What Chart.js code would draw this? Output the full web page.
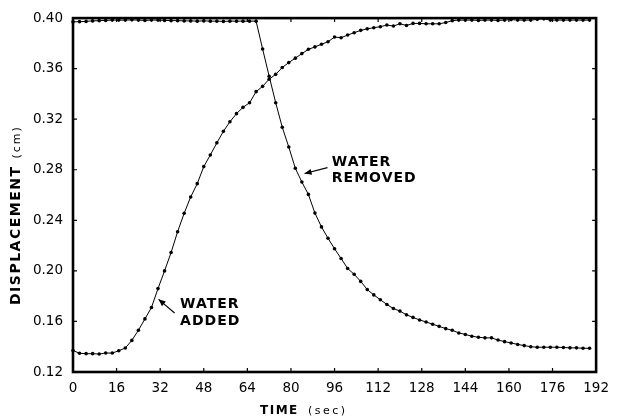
<!DOCTYPE html>
<html>
<head>
<meta charset="utf-8">
<script src="https://cdn.jsdelivr.net/npm/chart.js@4.4.1/dist/chart.umd.min.js"></script>
<style>
  html, body { margin: 0; padding: 0; background: #fff; }
  canvas { display: block; }
</style>
</head>
<body>
<canvas id="c" width="617" height="416"></canvas>
<script>
// ---- data ----
const timeSec = [0, 2.4, 4.8, 7.2, 9.6, 12, 14.4, 16.8, 19.2, 21.6, 24, 26.4, 28.8, 31.2, 33.6, 36, 38.4, 40.8, 43.2, 45.6,
  48, 50.4, 52.8, 55.2, 57.6, 60, 62.4, 64.8, 67.2, 69.6, 72, 74.4, 76.8, 79.2, 81.6, 84, 86.4, 88.8, 91.2, 93.6,
  96, 98.4, 100.8, 103.2, 105.6, 108, 110.4, 112.8, 115.2, 117.6, 120, 122.4, 124.8, 127.2, 129.6, 132, 134.4, 136.8, 139.2, 141.6,
  144, 146.4, 148.8, 151.2, 153.6, 156, 158.4, 160.8, 163.2, 165.6, 168, 170.4, 172.8, 175.2, 177.6, 180, 182.4, 184.8, 187.2, 189.6];

const waterAdded = [0.1370, 0.1348, 0.1345, 0.1345, 0.1342, 0.1350, 0.1350, 0.1368, 0.1390, 0.1450,
  0.1530, 0.1620, 0.1710, 0.1860, 0.2000, 0.2145, 0.2310, 0.2456, 0.2585, 0.2690,
  0.2825, 0.2917, 0.3013, 0.3104, 0.3180, 0.3244, 0.3294, 0.3330, 0.3418, 0.3460,
  0.3517, 0.3555, 0.3609, 0.3648, 0.3683, 0.3719, 0.3753, 0.3772, 0.3793, 0.3813,
  0.3850, 0.3845, 0.3866, 0.3884, 0.3903, 0.3915, 0.3924, 0.3932, 0.3945, 0.3937,
  0.3955, 0.3942, 0.3958, 0.3958, 0.3955, 0.3955, 0.3955, 0.3965, 0.3980, 0.3984,
  0.3984, 0.3984, 0.3982, 0.3984, 0.3984, 0.3982, 0.3984, 0.3988, 0.3984, 0.3984,
  0.3984, 0.3990, 0.3994, 0.3984, 0.3984, 0.3984, 0.3984, 0.3984, 0.3984, 0.3984];

const waterRemoved = [0.3970, 0.3972, 0.3974, 0.3978, 0.3980, 0.3982, 0.3984, 0.3984, 0.3984, 0.3986,
  0.3984, 0.3982, 0.3984, 0.3984, 0.3982, 0.3980, 0.3980, 0.3978, 0.3978, 0.3976,
  0.3978, 0.3976, 0.3976, 0.3974, 0.3976, 0.3976, 0.3976, 0.3976, 0.3976, 0.3755,
  0.3540, 0.3330, 0.3137, 0.2980, 0.2812, 0.2703, 0.2605, 0.2457, 0.2348, 0.2258,
  0.2175, 0.2098, 0.2019, 0.1973, 0.1917, 0.1852, 0.1810, 0.1772, 0.1734, 0.1702,
  0.1682, 0.1652, 0.1632, 0.1612, 0.1596, 0.1578, 0.1561, 0.1543, 0.1530, 0.1509,
  0.1497, 0.1483, 0.1475, 0.1470, 0.1470, 0.1453, 0.1440, 0.1430, 0.1418, 0.1409,
  0.1400, 0.1396, 0.1396, 0.1396, 0.1396, 0.1394, 0.1391, 0.1391, 0.1388, 0.1388];

const xTicks = [0, 16, 32, 48, 64, 80, 96, 112, 128, 144, 160, 176, 192];
const yTicks = [0.12, 0.16, 0.20, 0.24, 0.28, 0.32, 0.36, 0.40];

const xTitle = ['TIME', '(sec)'];
const yTitle = ['DISPLACEMENT', '(cm)'];
const labelAdded = ['WATER', 'ADDED'];
const labelRemoved = ['WATER', 'REMOVED'];

// ---- chart ----
const toPts = arr => timeSec.map((t, i) => ({ x: t, y: arr[i] }));

function arrow(ctx, x1, y1, x2, y2) {
  ctx.beginPath();
  ctx.moveTo(x1, y1);
  ctx.lineTo(x2, y2);
  ctx.stroke();
  const ang = Math.atan2(y2 - y1, x2 - x1);
  const L = 7, W = 3;
  ctx.beginPath();
  ctx.moveTo(x2, y2);
  ctx.lineTo(x2 - L * Math.cos(ang) + W * Math.sin(ang), y2 - L * Math.sin(ang) - W * Math.cos(ang));
  ctx.lineTo(x2 - L * Math.cos(ang) - W * Math.sin(ang), y2 - L * Math.sin(ang) + W * Math.cos(ang));
  ctx.closePath();
  ctx.fill();
}

const framePlugin = {
  id: 'frame',
  afterDraw(chart) {
    const { ctx, chartArea: a, scales: { x, y } } = chart;
    ctx.save();
    ctx.strokeStyle = '#000';
    ctx.fillStyle = '#000';
    ctx.lineWidth = 2.6;
    ctx.strokeRect(a.left, a.top, a.right - a.left, a.bottom - a.top);

    // inward tick marks on all four sides
    ctx.lineWidth = 1.2;
    ctx.beginPath();
    yTicks.forEach(v => {
      const py = y.getPixelForValue(v);
      ctx.moveTo(a.left, py); ctx.lineTo(a.left + 4, py);
      ctx.moveTo(a.right - 4, py); ctx.lineTo(a.right, py);
    });
    xTicks.forEach(v => {
      const px = x.getPixelForValue(v);
      ctx.moveTo(px, a.bottom); ctx.lineTo(px, a.bottom - 4);
      ctx.moveTo(px, a.top); ctx.lineTo(px, a.top + 4);
    });
    ctx.stroke();

    // annotations
    ctx.textBaseline = 'middle';
    ctx.textAlign = 'left';
    ctx.font = 'bold 14px "DejaVu Sans"';
    ctx.letterSpacing = '1px';
    ctx.fillText(labelAdded[0], x.getPixelForValue(39.3), y.getPixelForValue(0.1735));
    ctx.fillText(labelAdded[1], x.getPixelForValue(39.3), y.getPixelForValue(0.1603));
    ctx.fillText(labelRemoved[0], x.getPixelForValue(95.0), y.getPixelForValue(0.2862));
    ctx.fillText(labelRemoved[1], x.getPixelForValue(95.0), y.getPixelForValue(0.2735));
    ctx.letterSpacing = '0px';
    ctx.lineWidth = 1.1;
    arrow(ctx, x.getPixelForValue(37.3), y.getPixelForValue(0.1667), x.getPixelForValue(31.4), y.getPixelForValue(0.1775));
    arrow(ctx, x.getPixelForValue(93.4), y.getPixelForValue(0.2817), x.getPixelForValue(85.0), y.getPixelForValue(0.2770));

    // x axis title
    ctx.textBaseline = 'alphabetic';
    ctx.font = 'bold 12px "DejaVu Sans"';
    ctx.letterSpacing = '1.5px';
    ctx.fillText(xTitle[0], 260, 414);
    ctx.font = '11px "DejaVu Sans"';
    ctx.letterSpacing = '2.5px';
    ctx.fillText(xTitle[1], 308, 414);

    // y axis title (rotated)
    ctx.save();
    ctx.translate(20, 305);
    ctx.rotate(-Math.PI / 2);
    ctx.font = 'bold 14px "DejaVu Sans"';
    ctx.letterSpacing = '1.5px';
    ctx.fillText(yTitle[0], 0, 0);
    const w = ctx.measureText(yTitle[0]).width;
    ctx.font = '11px "DejaVu Sans"';
    ctx.letterSpacing = '2px';
    ctx.fillText(yTitle[1], w + 7, 0);
    ctx.restore();

    ctx.letterSpacing = '0px';
    ctx.restore();
  }
};

const ds = (label, arr) => ({
  label,
  data: toPts(arr),
  borderColor: '#000',
  backgroundColor: '#000',
  borderWidth: 1,
  pointRadius: 1.8,
  pointBorderWidth: 0,
  pointHoverRadius: 1.8,
  tension: 0,
  clip: false
});

new Chart(document.getElementById('c'), {
  type: 'line',
  data: {
    datasets: [ds('Water added', waterAdded), ds('Water removed', waterRemoved)]
  },
  plugins: [framePlugin],
  options: {
    responsive: false,
    animation: false,
    devicePixelRatio: 1,
    layout: { padding: { top: 16, right: 20, left: 0, bottom: 0 } },
    plugins: { legend: { display: false }, tooltip: { enabled: false } },
    scales: {
      x: {
        type: 'linear',
        min: 0, max: 192,
        afterBuildTicks: s => { s.ticks = xTicks.map(v => ({ value: v })); },
        afterFit: s => { s.height = 44; },
        grid: { display: false, drawTicks: false },
        border: { display: false },
        ticks: {
          color: '#000',
          padding: 8,
          maxRotation: 0,
          font: { family: 'DejaVu Sans', size: 13.5 },
          callback: v => String(v)
        }
      },
      y: {
        min: 0.12, max: 0.40,
        afterBuildTicks: s => { s.ticks = yTicks.map(v => ({ value: v })); },
        afterFit: s => { s.width = 73; },
        grid: { display: false, drawTicks: false },
        border: { display: false },
        ticks: {
          color: '#000',
          padding: 10,
          font: { family: 'DejaVu Sans', size: 13.5 },
          callback: v => Number(v).toFixed(2)
        }
      }
    }
  }
});
</script>
</body>
</html>
